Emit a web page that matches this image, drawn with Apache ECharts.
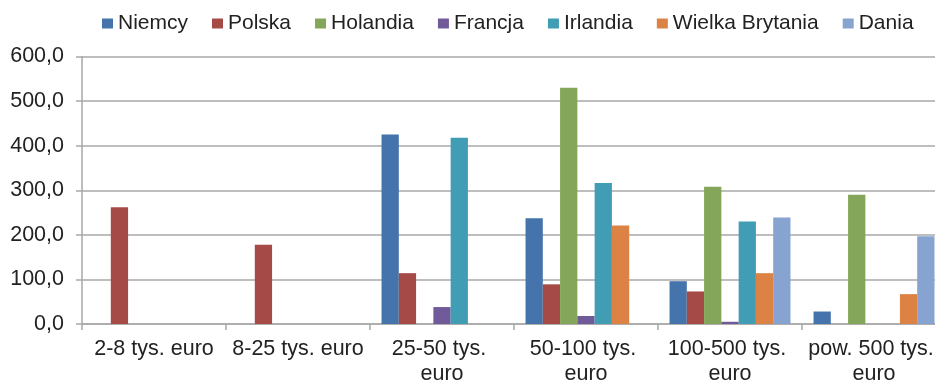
<!DOCTYPE html>
<html>
<head>
<meta charset="utf-8">
<script src="https://cdn.jsdelivr.net/npm/echarts@6/dist/echarts.min.js"></script>
<style>
  html, body { margin: 0; padding: 0; background: #fff; }
  #chart { width: 935px; height: 382px; }
</style>
</head>
<body>
<div id="chart"></div>
<script>
// Farm size classes (economic size)
const categories = ['2-8 tys. euro', '8-25 tys. euro', '25-50 tys. euro', '50-100 tys. euro', '100-500 tys. euro', 'pow. 500 tys. euro'];

// Values per country, one entry per size class
const niemcy    = [0, 0, 425, 237, 96, 28];
const polska    = [262, 178, 114, 89, 73, 0];
const holandia  = [0, 0, 0, 530, 308, 290];
const francja   = [0, 0, 38, 18, 5, 0];
const irlandia  = [0, 0, 418, 316, 230, 0];
const wielkaBr  = [0, 0, 0, 221, 114, 67];
const dania     = [0, 0, 0, 0, 239, 197];

const seriesNames  = ['Niemcy', 'Polska', 'Holandia', 'Francja', 'Irlandia', 'Wielka Brytania', 'Dania'];
const seriesValues = [niemcy, polska, holandia, francja, irlandia, wielkaBr, dania];
const colors = ['#4573ab', '#a64a48', '#84a65b', '#715a9a', '#409db3', '#db8244', '#87a3cf'];

const yTicks = [0, 100, 200, 300, 400, 500, 600];

const font = 'Liberation Sans, Arial, sans-serif';
const gridColor = '#a9a9a9';
const fs = 21.5;

const chart = echarts.init(document.getElementById('chart'), null, { renderer: 'canvas' });

chart.setOption({
  animation: false,
  color: colors,
  textStyle: { fontFamily: font },
  legend: {
    top: 8,
    left: 97,
    itemWidth: 11,
    itemHeight: 10,
    itemGap: 24,
    icon: 'rect',
    textStyle: { fontSize: 21, color: '#222', fontFamily: font },
    data: seriesNames
  },
  grid: {
    left: 82,
    top: 56.5,
    width: 864,
    height: 267.5,
    containLabel: false,
    outerBoundsMode: 'none'
  },
  xAxis: {
    type: 'category',
    data: categories,
    axisLine: { lineStyle: { color: gridColor, width: 1.5 } },
    axisTick: { show: true, length: 6, lineStyle: { color: gridColor, width: 1.5 } },
    axisLabel: {
      fontSize: fs,
      color: '#222',
      fontFamily: font,
      margin: 13,
      lineHeight: 25,
      width: 138,
      overflow: 'break',
      interval: 0
    }
  },
  yAxis: {
    type: 'value',
    min: yTicks[0],
    max: yTicks[yTicks.length - 1],
    interval: 100,
    axisLine: { show: true, lineStyle: { color: gridColor, width: 1.5 } },
    axisTick: { show: true, length: 6, lineStyle: { color: gridColor, width: 1.5 } },
    splitLine: { lineStyle: { color: gridColor, width: 1.5 } },
    axisLabel: {
      fontSize: fs,
      color: '#222',
      fontFamily: font,
      margin: 18,
      formatter: v => v.toFixed(1).replace('.', ',')
    }
  },
  series: seriesNames.map((name, i) => ({
    name,
    type: 'bar',
    data: seriesValues[i],
    barGap: '0%',
    barCategoryGap: '16%'
  }))
});
</script>
</body>
</html>
